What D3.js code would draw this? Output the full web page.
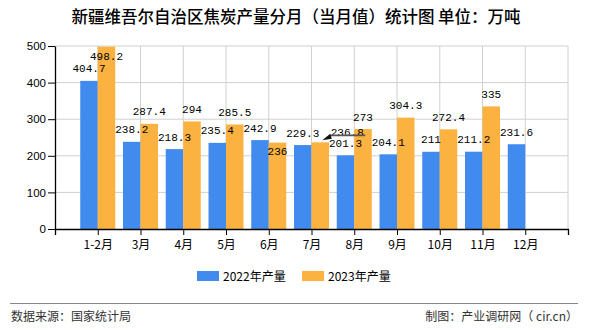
<!DOCTYPE html>
<html><head><meta charset="utf-8">
<script src="https://cdn.jsdelivr.net/npm/d3@7/dist/d3.min.js"></script>
<style>body{margin:0;background:#fff}svg{display:block}</style>
</head><body>
<svg id="c" width="590" height="330"></svg>
<script>
const categories = ["1-2月","3月","4月","5月","6月","7月","8月","9月","10月","11月","12月"];
const v2022 = [404.7,238.2,218.3,235.4,242.9,229.3,201.3,204.1,211,211.2,231.6];
const v2023 = [498.2,287.4,294,285.5,236,236.8,273,304.3,272.4,335,null];
const yTicks = [0,100,200,300,400,500];
const seriesNames = ["2022年产量","2023年产量"];
const colors = ["#428bee","#fbb241"];

const svg = d3.select("#c");
const L=55,R=568,T=46,B=229;
const x = d3.scaleLinear().domain([0,categories.length+1]).range([L,R]);
const y = d3.scaleLinear().domain([0,500]).range([B,T]);
const bw = 17.5;
const cx = i => x(i+1);

// title
svg.append("text").attr("x",296).attr("y",23).attr("text-anchor","middle")
  .attr("font-family","'Noto Sans CJK SC'").attr("font-size",16.5).attr("font-weight","500").attr("fill","#000")
  .text("新疆维吾尔自治区焦炭产量分月（当月值）统计图 单位：万吨");

// grid
const g = svg.append("g");
g.selectAll(".hg").data(yTicks.filter(d=>d>0)).join("line")
  .attr("x1",L).attr("x2",R).attr("y1",d=>y(d)).attr("y2",d=>y(d)).attr("stroke","#d0d0d0");
g.selectAll(".vg").data(categories.map((c,i)=>cx(i)).concat([R])).join("line")
  .attr("x1",d=>d).attr("x2",d=>d).attr("y1",T).attr("y2",B).attr("stroke","#d0d0d0");

// bars
[v2022,v2023].forEach((vals,s)=>{
  svg.append("g").selectAll("rect").data(vals.map((v,i)=>({v,i})).filter(d=>d.v!=null)).join("rect")
    .attr("x",d=>s===0?cx(d.i)-bw:cx(d.i)).attr("width",bw)
    .attr("y",d=>y(d.v)).attr("height",d=>B-y(d.v)).attr("fill",colors[s]);
});

// axes
const xa = svg.append("g").attr("transform",`translate(0,${B})`)
  .call(d3.axisBottom(x).tickValues(d3.range(0,categories.length+2)).tickSize(6)
    .tickFormat(d=>categories[d-1]||""));
xa.select(".domain").attr("stroke","#000").attr("stroke-width",1.3);
xa.selectAll(".tick line").attr("stroke","#000");
xa.selectAll("text").attr("font-family","'Noto Sans CJK SC'").attr("font-size",12).attr("fill","#000").attr("dy","0.9em");
const ya = svg.append("g").attr("transform",`translate(${L},0)`)
  .call(d3.axisLeft(y).tickValues(yTicks).tickSize(7).tickPadding(2).tickSizeOuter(0));
ya.select(".domain").attr("stroke","#000").attr("stroke-width",1.3);
ya.selectAll(".tick line").attr("stroke","#000");
ya.selectAll("text").attr("font-family","'Liberation Sans'").attr("font-size",11.5).attr("fill","#000");

// value labels
const lab = svg.append("g").attr("font-family","'Liberation Mono'").attr("font-size",11).attr("fill","#000").attr("text-anchor","middle");
v2022.forEach((v,i)=>{ if(v==null) return;
  lab.append("text").attr("x",cx(i)-bw/2).attr("y",y(v)-8.5).text(v);
});
v2023.forEach((v,i)=>{ if(v==null) return;
  let tx=cx(i)+bw/2, ty=y(v)-8.5;
  if (ty-10 < T) ty = y(v)+13;        // clamp inside plot
  if (i===4) ty = y(v)+12.5;          // collision with neighbour label
  if (i===5) { tx = cx(i)+bw/2+27; ty = y(v)-6.5;
    svg.append("line").attr("x1",tx+18).attr("x2",tx-17).attr("y1",ty-0.5).attr("y2",ty-0.5).attr("stroke","#555").attr("stroke-width",1.6);
    svg.append("path").attr("d",`M${tx-25},${ty+4.5}L${tx-17},${ty-2}L${tx-15.5},${ty+3}Z`).attr("fill","#111");
  }
  lab.append("text").attr("x",tx).attr("y",ty).text(v);
});

// legend
const lg = svg.append("g");
seriesNames.forEach((n,k)=>{
  const lx = 197 + k*105;
  lg.append("rect").attr("x",lx).attr("y",271).attr("width",22).attr("height",10).attr("fill",colors[k]);
  lg.append("text").attr("x",lx+26).attr("y",280.5).attr("font-family","'Noto Sans CJK SC'").attr("font-size",12).attr("fill","#000").text(n);
});

// footer
svg.append("line").attr("x1",10).attr("x2",578).attr("y1",303.5).attr("y2",303.5).attr("stroke","#888").attr("stroke-width",1);
svg.append("text").attr("x",11).attr("y",321).attr("font-family","'Noto Sans CJK SC'").attr("font-size",12).attr("fill","#333").text("数据来源：国家统计局");
svg.append("text").attr("x",578).attr("y",321).attr("text-anchor","end").attr("font-family","'Noto Sans CJK SC'").attr("font-size",12).attr("fill","#333").text("制图：产业调研网（ cir.cn）");
</script>
</body></html>
